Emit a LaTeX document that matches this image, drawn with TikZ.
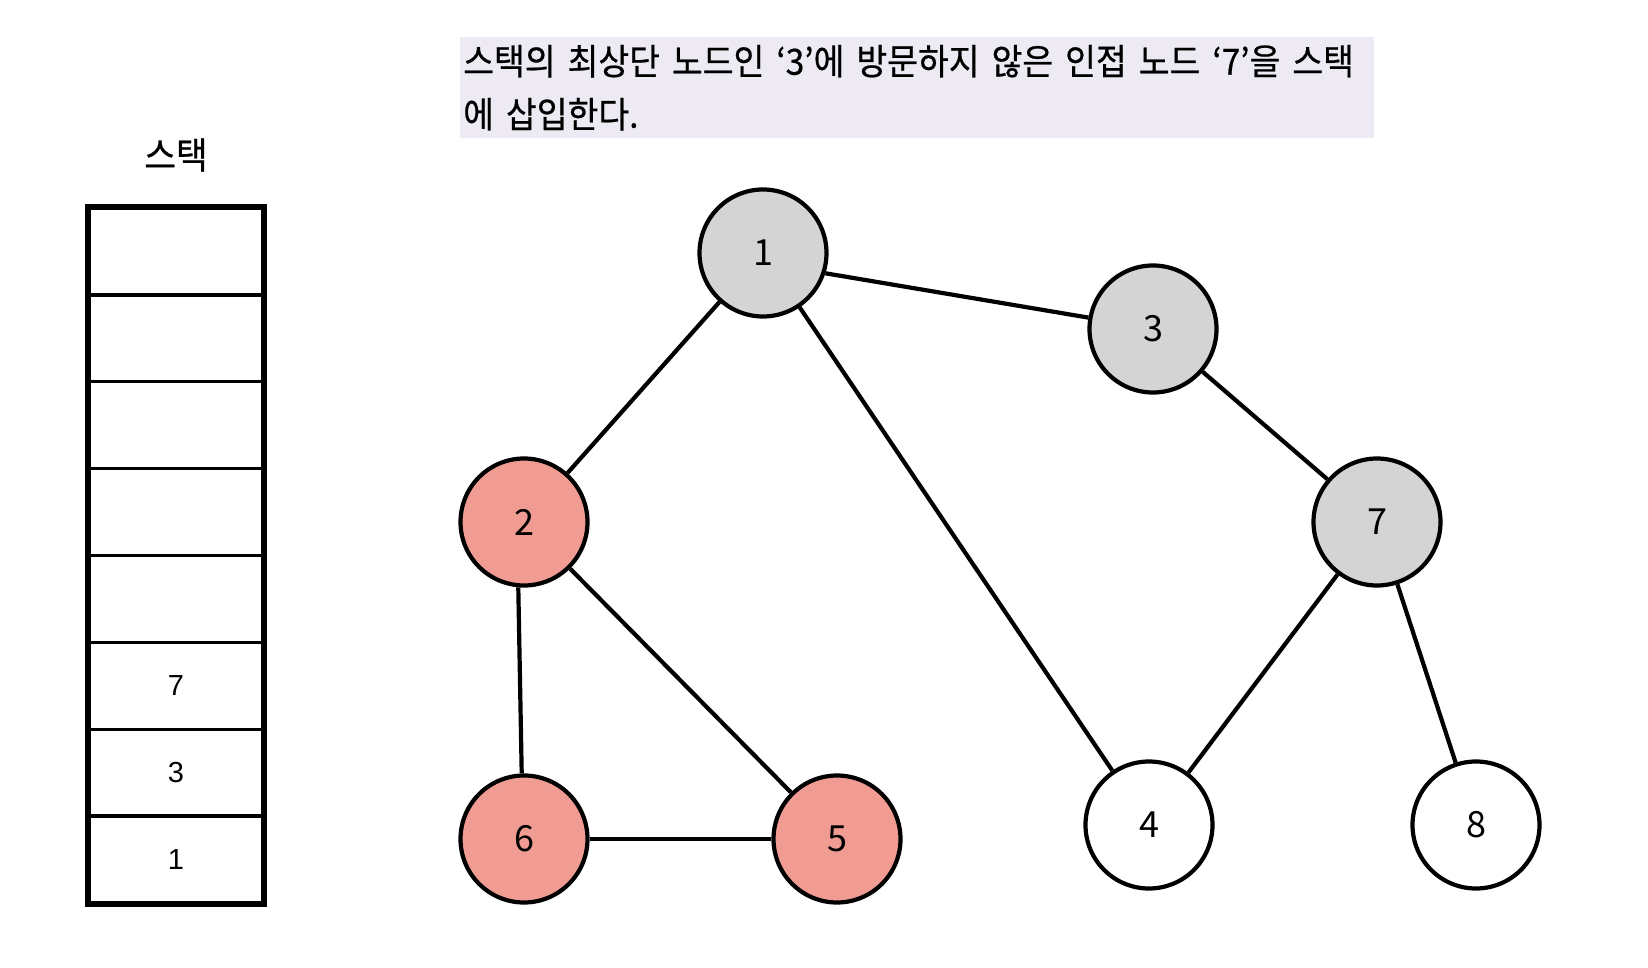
\documentclass[tikz,border=0pt]{standalone}
\usepackage{fontspec}
\setmainfont{Liberation Sans}
\newfontfamily\krfont[FakeStretch=0.93,FakeBold=0.6]{Noto Sans CJK KR}
\newfontfamily\numfont{Noto Sans CJK KR}
\usetikzlibrary{positioning}

\definecolor{visitgray}{HTML}{D4D4D4}
\definecolor{donered}{HTML}{F19C92}
\definecolor{notebg}{HTML}{EDEAF4}

\tikzset{
    vertex/.style={circle, draw, line width=4.2pt, minimum size=127pt, inner sep=0pt,
        font=\numfont\fontsize{36}{36}\selectfont},
    visited/.style={vertex, fill=visitgray},
    done/.style={vertex, fill=donered},
    edge/.style={line width=4.2pt},
    cell/.style={draw, line width=3.3pt, minimum width=174pt, minimum height=86.875pt,
        inner sep=0pt, font=\fontsize{29}{29}\selectfont},
    note/.style={anchor=north west, fill=notebg, minimum width=914pt, minimum height=101pt,
        inner xsep=3pt, text width=908pt, align=left,
        font=\krfont\fontsize{36}{53}\selectfont},
}

\begin{document}
\begin{tikzpicture}[x=1pt,y=-1pt]
    \useasboundingbox (0,0) rectangle (1648,968);

    % stack
    \node[font=\krfont\fontsize{37}{37}\selectfont] (stacktitle) at (176,155) {스택};
    \foreach \i/\v in {1/{},2/{},3/{},4/{},5/{},6/7,7/3,8/1}
        \node[cell] (s\i) at (176,{208+(\i-0.5)*86.875}) {\v};
    \draw[line width=4.2pt] (s1.north west) rectangle (s8.south east);

    % description
    \node[note] (note) at (460,37)
        {스택의 최상단 노드인 ‘3’에 방문하지 않은 인접 노드 ‘7’을 스택\\에 삽입한다.};

    % graph
    \node[visited] (n1) at (763,253) {1};
    \node[visited] (n3) at (1153,329) {3};
    \node[done]    (n2) at (524,522) {2};
    \node[visited] (n7) at (1377,522) {7};
    \node[done]    (n6) at (524,839) {6};
    \node[done]    (n5) at (837,839) {5};
    \node[vertex]  (n4) at (1149,825) {4};
    \node[vertex]  (n8) at (1476,825) {8};

    \draw[edge] (n1.-18) -- (n3.170);
    \draw[edge] (n1) -- (n2);
    \draw[edge] (n1) -- (n4);
    \draw[edge] (n3) -- (n7);
    \draw[edge] (n2.-95) -- (n6.92);
    \draw[edge] (n2) -- (n5);
    \draw[edge] (n6) -- (n5);
    \draw[edge] (n7) -- (n4);
    \draw[edge] (n7) -- (n8);
\end{tikzpicture}
\end{document}
